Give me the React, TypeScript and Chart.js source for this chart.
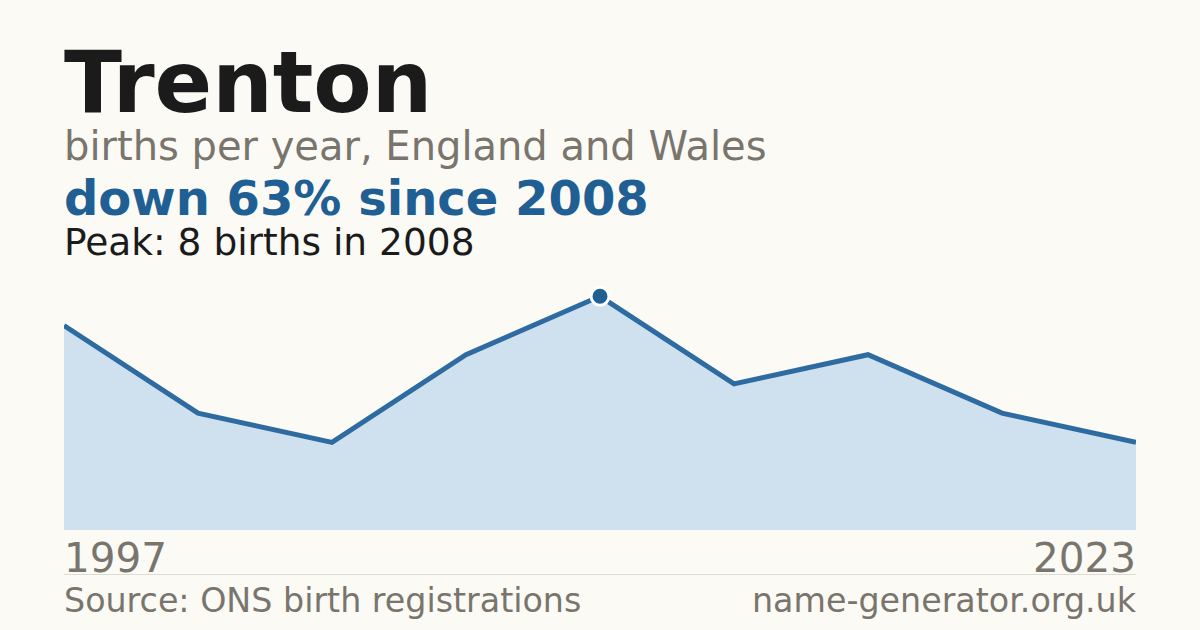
import React, {useEffect, useRef} from 'react';
import {Chart, registerables} from 'chart.js';

Chart.register(...registerables);

const years = ['1997', '2000', '2004', '2007', '2008', '2012', '2016', '2020', '2023'];
const births = [7, 4, 3, 6, 8, 5, 6, 4, 3];
const firstYear = '1997';
const lastYear = '2023';

const FONT = '"DejaVu Sans", sans-serif';
const GREY = '#79756d';
const BLUE = '#1f5f94';

const peakIndex = births.indexOf(Math.max(...births));

const TrentonChart: React.FC = () => {
    const chartRef = useRef<HTMLCanvasElement | null>(null);
    const chartInstanceRef = useRef<Chart | null>(null);

    useEffect(() => {
        if (chartInstanceRef.current) {
            chartInstanceRef.current.destroy();
        }
        if (chartRef.current) {
            const ctx = chartRef.current.getContext('2d');
            if (ctx) {
                chartInstanceRef.current = new Chart(ctx, {
                    type: 'line',
                    data: {
                        labels: years,
                        datasets: [
                            {
                                data: births,
                                borderColor: '#2e6ba1',
                                borderWidth: 5,
                                backgroundColor: '#cfe0ef',
                                fill: 'origin',
                                tension: 0,
                                pointRadius: births.map((_, i) => (i === peakIndex ? 9 : 0)),
                                pointBackgroundColor: BLUE,
                                pointBorderColor: '#ffffff',
                                pointBorderWidth: 3,
                                clip: false,
                            },
                        ],
                    },
                    options: {
                        animation: false,
                        responsive: false,
                        maintainAspectRatio: false,
                        layout: {padding: 0},
                        plugins: {legend: {display: false}, tooltip: {enabled: false}},
                        scales: {
                            x: {type: 'category', display: false, offset: false},
                            y: {type: 'linear', display: false, min: 0, max: 8.9},
                        },
                    },
                });
            }
        }
        return () => {
            if (chartInstanceRef.current) {
                chartInstanceRef.current.destroy();
                chartInstanceRef.current = null;
            }
        };
    }, []);

    const text = (top: number, size: number, color: string, bold = false): React.CSSProperties => ({
        position: 'absolute',
        top,
        left: 64,
        fontSize: size,
        lineHeight: 1,
        color,
        fontWeight: bold ? 'bold' : 'normal',
        whiteSpace: 'nowrap',
    });

    return (
        <div style={{position: 'absolute', left: 0, top: 0, width: 1200, height: 630, background: '#fbfaf5', fontFamily: FONT, overflow: 'hidden'}}>
            <div style={text(40, 85, '#1b1b1b', true)}>Trenton</div>
            <div style={text(126, 40, GREY)}>births per year, England and Wales</div>
            <div style={text(174.4, 48, BLUE, true)}>down 63% since 2008</div>
            <div style={text(223.5, 37.5, '#1b1b1b')}>Peak: 8 births in 2008</div>
            <div style={{position: 'absolute', left: 64, top: 270, width: 1072, height: 260}}>
                <canvas ref={chartRef} width={1072} height={260} style={{display: 'block'}}></canvas>
            </div>
            <div style={text(538, 40.5, GREY)}>{firstYear}</div>
            <div style={{...text(538, 40.5, GREY), left: undefined, right: 64}}>{lastYear}</div>
            <div style={{position: 'absolute', left: 64, top: 574, width: 1072, height: 1, background: '#dedbd3'}}></div>
            <div style={text(584, 33.3, GREY)}>Source: ONS birth registrations</div>
            <div style={{...text(584, 33.3, GREY), left: undefined, right: 64}}>name-generator.org.uk</div>
        </div>
    );
};

export default function App() {
    return <TrentonChart/>;
}
